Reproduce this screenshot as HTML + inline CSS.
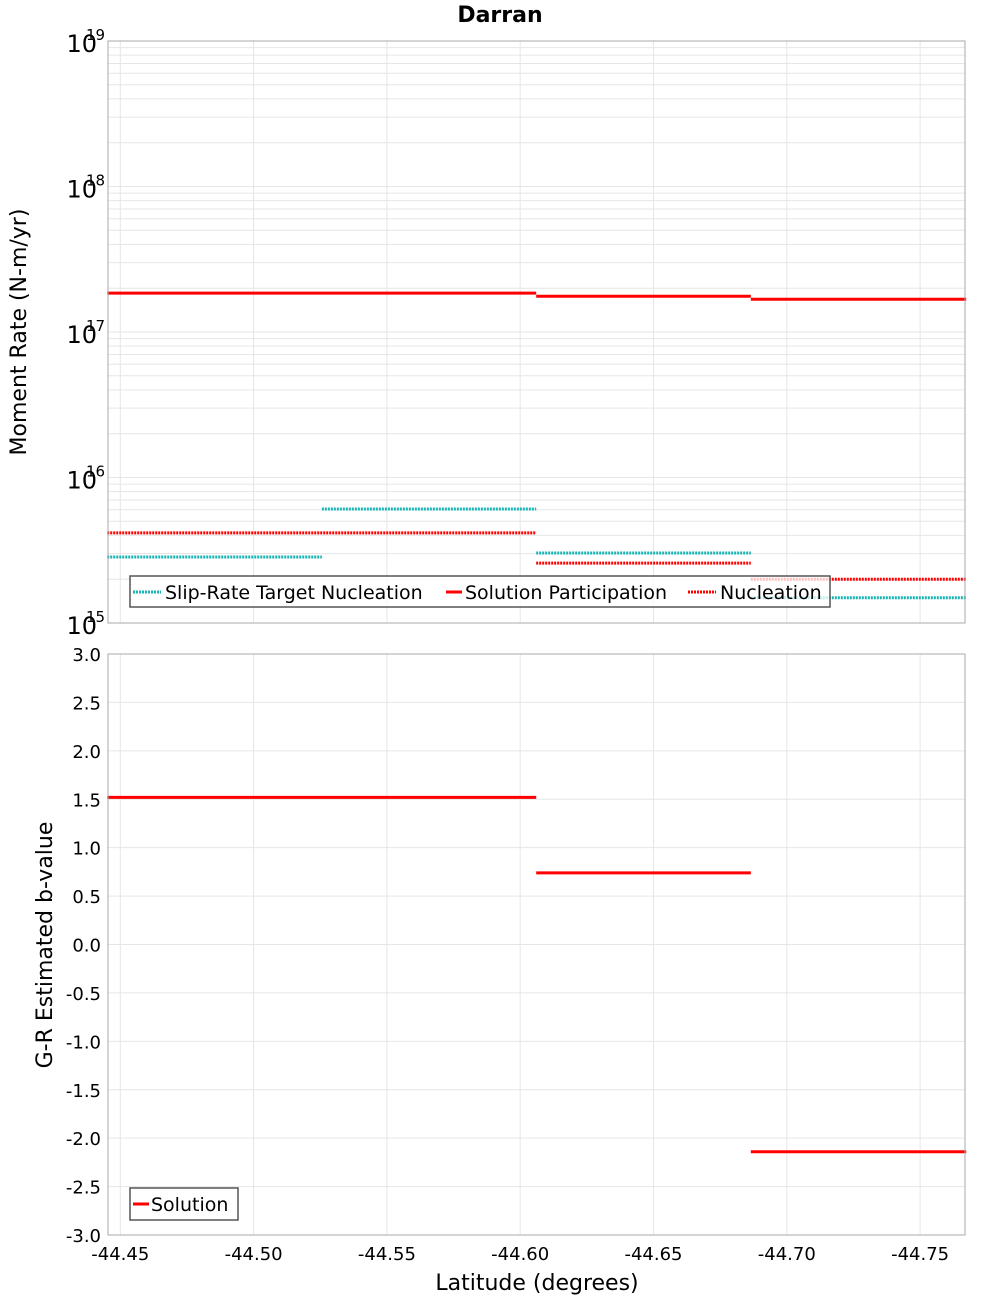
<!DOCTYPE html>
<html><head><meta charset="utf-8"><style>
body{margin:0;background:#fff;}
svg text{font-family:"DejaVu Sans","Liberation Sans",sans-serif;}
</style></head><body>
<svg id="chart" width="1000" height="1300" xmlns="http://www.w3.org/2000/svg">
<rect width="1000" height="1300" fill="#fff"/>
<text x="500" y="22" text-anchor="middle" font-weight="bold" font-size="22">Darran</text>
<g id="topg"></g><g id="botg"></g>
<text transform="translate(26,332) rotate(-90)" text-anchor="middle" font-size="22">Moment Rate (N-m/yr)</text>
<text transform="translate(52,945) rotate(-90)" text-anchor="middle" font-size="22">G-R Estimated b-value</text>
<text x="537" y="1290" text-anchor="middle" font-size="22">Latitude (degrees)</text>
</svg>
<script>
const xTicks=[-44.45,-44.50,-44.55,-44.60,-44.65,-44.70,-44.75];
const binEdges=[-44.4451,-44.5256,-44.606,-44.6865,-44.7673];
const targetNuc=[2.84e15,6.08e15,3.03e15,1.49e15];
const nucEdges=[-44.4451,-44.606,-44.6865,-44.7673];
const solPart=[1.85e17,1.76e17,1.68e17];
const nucleation=[4.16e15,2.58e15,2.0e15];
const bValues=[1.52,0.74,-2.14];
const bTicks=[3.0,2.5,2.0,1.5,1.0,0.5,0.0,-0.5,-1.0,-1.5,-2.0,-2.5,-3.0];
const decades=[15,16,17,18,19];

const NS='http://www.w3.org/2000/svg';
const L=108,R=965,T1=41,B1=623,T2=654,B2=1235;
const xs=v=>120.3+(-44.45-v)*2666;
const ys=v=>T1+(19-Math.log10(v))*(B1-T1)/4;
const yb=v=>T2+(3-v)*(B2-T2)/6;
function mk(p,tag,a,txt){const e=document.createElementNS(NS,tag);for(const k in a)e.setAttribute(k,a[k]);if(txt!==undefined)e.textContent=txt;p.appendChild(e);return e;}
const gTop=document.getElementById('topg'),gBot=document.getElementById('botg');

for(let d=15;d<19;d++)for(let m=1;m<10;m++){const y=ys(m*Math.pow(10,d));
 const g=mk(gTop,'line',{x1:L,x2:R,y1:y,y2:y,stroke:'#e6e6e6','stroke-width':1});
 
 }
xTicks.forEach(t=>{const x=xs(t);
 const g=mk(gTop,'line',{x1:x,x2:x,y1:T1,y2:B1,stroke:'#e6e6e6'});
 
 
 const g2=mk(gBot,'line',{x1:x,x2:x,y1:T2,y2:B2,stroke:'#e6e6e6'});
 
 
 const tl=mk(gBot,'text',{x:x,y:1260,'text-anchor':'middle','font-size':18},t.toFixed(2));
 
 });
decades.forEach(d=>{const y=ys(Math.pow(10,d));
 const t=mk(gTop,'text',{x:97,y:y+11,'text-anchor':'end','font-size':24},'10');
 
 
 const s=mk(gTop,'text',{x:86,y:y-1,'font-size':15},String(d));
 
 });
bTicks.forEach(v=>{const y=yb(v);
 const g=mk(gBot,'line',{x1:L,x2:R,y1:y,y2:y,stroke:'#e6e6e6'});
 
 
 const t=mk(gBot,'text',{x:101,y:y+7,'text-anchor':'end','font-size':18},v.toFixed(1));
 
 });

function seg(p,edges,vals,yf,color,dash,name){vals.forEach((v,i)=>{const y=yf(v);
 const a={x1:xs(edges[i]),x2:xs(edges[i+1]),y1:y,y2:y,stroke:color,'stroke-width':3};if(dash)a['stroke-dasharray']='2,1';
 const l=mk(p,'line',a);
 
 });}
seg(gTop,binEdges,targetNuc,ys,'#19b4b4',true,'target-nucleation-segment');
seg(gTop,nucEdges,nucleation,ys,'#ff0000',true,'nucleation-segment');
seg(gTop,nucEdges,solPart,ys,'#ff0000',false,'solution-participation-segment');
seg(gBot,nucEdges,bValues,yb,'#ff0000',false,'b-value-segment');

const f1=mk(gTop,'rect',{x:L,y:T1,width:R-L,height:B1-T1,fill:'none',stroke:'#aaa'});


const f2=mk(gBot,'rect',{x:L,y:T2,width:R-L,height:B2-T2,fill:'none',stroke:'#aaa'});



const lg=mk(gTop,'g',{});


mk(lg,'rect',{x:130,y:576,width:700,height:31,fill:'rgba(255,255,255,0.75)',stroke:'#555','stroke-width':1.5});
mk(lg,'line',{x1:133,x2:161,y1:592,y2:592,stroke:'#19b4b4','stroke-width':3,'stroke-dasharray':'2,1'});
mk(lg,'text',{x:165,y:599,'font-size':19},'Slip-Rate Target Nucleation');
mk(lg,'line',{x1:446,x2:462,y1:592,y2:592,stroke:'#ff0000','stroke-width':3});
mk(lg,'text',{x:465,y:599,'font-size':19},'Solution Participation');
mk(lg,'line',{x1:688,x2:716,y1:592,y2:592,stroke:'#ff0000','stroke-width':3,'stroke-dasharray':'2,1'});
mk(lg,'text',{x:720,y:599,'font-size':19},'Nucleation');
const lb=mk(gBot,'g',{});


mk(lb,'rect',{x:130,y:1188,width:108,height:32,fill:'#fff',stroke:'#555','stroke-width':1.5});
mk(lb,'line',{x1:133,x2:149,y1:1204,y2:1204,stroke:'#ff0000','stroke-width':3});
mk(lb,'text',{x:151,y:1211,'font-size':19},'Solution');
</script>
</body></html>
